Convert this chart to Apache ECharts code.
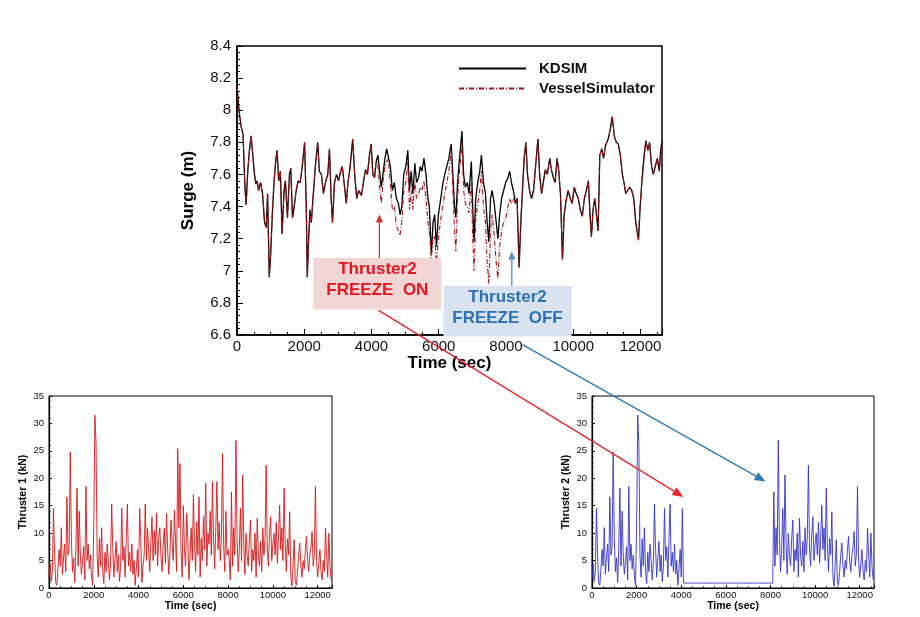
<!DOCTYPE html>
<html><head><meta charset="utf-8">
<script src="https://cdn.jsdelivr.net/npm/echarts@6/dist/echarts.min.js"></script>
<style>html,body{margin:0;padding:0;background:#fff}#c{width:920px;height:617px}</style>
</head><body><div id="c"></div>
<script>
// ---------- Surge time history (sec, m) ----------
const surgeTime = [
0,60,120,180,230,270,320,370,420,470,
520,560,600,640,700,760,820,870,910,960,
1000,1050,1100,1150,1190,1240,1290,1340,1400,1440,
1500,1560,1600,1650,1700,1760,1820,1880,1940,2010,
2060,2090,2130,2170,2210,2260,2330,2400,2450,2510,
2570,2630,2700,2750,2800,2840,2900,2960,3020,3080,
3130,3200,3250,3300,3360,3440,3500,3560,3620,3700,
3760,3820,3880,3940,3990,4040,4090,4140,4190,4250,
4290,4340,4400,4450,4500,4560,4620,4680,4740,4800,
4850,4900,4960,5020,5080,5130,5180,5230,5290,5340,
5400,5450,5500,5560,5620,5680,5720,5780,5830,5880,
5930,5990,6060,6120,6180,6240,6300,6370,6420,6470,
6510,6560,6610,6690,6740,6790,6850,6900,6970,7010,
7050,7100,7160,7220,7270,7330,7390,7440,7490,7540,
7590,7650,7710,7760,7810,7870,7930,7990,8060,8110,
8160,8220,8280,8330,8390,8440,8490,8540,8590,8640,
8700,8760,8820,8880,8950,9000,9060,9110,9170,9230,
9300,9360,9410,9460,9520,9570,9620,9680,9730,9790,
9850,9910,9970,10030,10090,10150,10210,10270,10330,10390,
10450,10500,10540,10590,10640,10690,10740,10790,10850,10900,
10960,11040,11100,11160,11220,11280,11340,11400,11460,11510,
11560,11620,11680,11740,11800,11860,11940,11990,12040,12100,
12160,12220,12270,12330,12380,12440,12500,12560,12600,12640];
const kdsim = [
8.15,8.0,7.9,7.85,7.55,7.41,7.62,7.75,7.84,7.72,
7.6,7.54,7.56,7.5,7.55,7.48,7.3,7.27,7.48,6.96,
7.1,7.35,7.55,7.68,7.75,7.56,7.62,7.23,7.5,7.56,
7.33,7.6,7.64,7.33,7.4,7.5,7.56,7.55,7.65,7.8,
7.4,6.96,7.2,7.38,7.3,7.45,7.65,7.8,7.62,7.6,
7.48,7.55,7.6,7.76,7.45,7.3,7.55,7.6,7.56,7.62,
7.65,7.52,7.42,7.55,7.64,7.82,7.6,7.45,7.5,7.47,
7.55,7.63,7.6,7.72,7.79,7.6,7.58,7.68,7.72,7.6,
7.52,7.6,7.7,7.76,7.77,7.65,7.5,7.55,7.45,7.42,
7.35,7.4,7.6,7.65,7.75,7.5,7.62,7.48,7.67,7.55,
7.58,7.65,7.62,7.7,7.6,7.45,7.4,7.1,7.3,7.35,
7.15,7.35,7.45,7.54,7.6,7.65,7.7,7.79,7.6,7.4,
7.33,7.55,7.68,7.87,7.6,7.52,7.55,7.48,7.68,7.4,
7.18,7.45,7.55,7.62,7.72,7.55,7.48,7.3,7.18,7.45,
7.5,7.42,7.3,7.2,7.35,7.45,7.5,7.55,7.58,7.62,
7.55,7.5,7.42,7.45,7.02,7.3,7.5,7.7,7.8,7.6,
7.5,7.45,7.5,7.65,7.82,7.6,7.48,7.55,7.63,7.6,
7.7,7.62,7.58,7.55,7.7,7.62,7.48,7.07,7.35,7.44,
7.5,7.45,7.42,7.52,7.48,7.45,7.38,7.34,7.45,7.5,
7.56,7.35,7.21,7.38,7.45,7.35,7.25,7.72,7.76,7.7,
7.78,7.82,7.88,7.96,7.84,7.8,7.79,7.72,7.6,7.55,
7.48,7.5,7.52,7.5,7.45,7.3,7.19,7.4,7.55,7.7,
7.81,7.75,7.8,7.65,7.6,7.65,7.7,7.62,7.75,7.81];
const vessel = [
8.15,8.0,7.9,7.85,7.55,7.41,7.62,7.75,7.84,7.72,
7.6,7.54,7.56,7.5,7.55,7.48,7.3,7.27,7.48,6.96,
7.1,7.35,7.55,7.68,7.75,7.56,7.62,7.23,7.5,7.56,
7.33,7.6,7.64,7.33,7.4,7.5,7.56,7.55,7.65,7.8,
7.4,6.96,7.2,7.38,7.3,7.45,7.65,7.8,7.62,7.6,
7.48,7.55,7.6,7.76,7.45,7.3,7.55,7.6,7.56,7.62,
7.65,7.52,7.42,7.55,7.64,7.82,7.6,7.45,7.5,7.47,
7.55,7.63,7.6,7.72,7.79,7.6,7.58,7.68,7.66,7.5,
7.42,7.55,7.65,7.68,7.70,7.55,7.38,7.4,7.28,7.25,
7.22,7.3,7.5,7.55,7.68,7.38,7.5,7.38,7.55,7.45,
7.48,7.52,7.5,7.56,7.45,7.3,7.25,7.08,7.2,7.22,
7.05,7.2,7.32,7.4,7.48,7.55,7.62,7.75,7.5,7.25,
7.12,7.45,7.6,7.8,7.5,7.42,7.4,7.36,7.55,7.2,
7.0,7.32,7.42,7.5,7.62,7.4,7.3,7.05,6.92,7.25,
7.35,7.22,7.05,6.95,7.15,7.25,7.3,7.32,7.4,7.45,
7.42,7.45,7.42,7.45,7.02,7.3,7.5,7.7,7.8,7.6,
7.5,7.45,7.5,7.65,7.82,7.6,7.48,7.55,7.63,7.6,
7.7,7.62,7.58,7.55,7.7,7.62,7.48,7.07,7.35,7.44,
7.5,7.45,7.42,7.52,7.48,7.45,7.38,7.34,7.45,7.5,
7.56,7.35,7.21,7.38,7.45,7.35,7.25,7.72,7.76,7.7,
7.78,7.82,7.88,7.96,7.84,7.8,7.79,7.72,7.6,7.55,
7.48,7.5,7.52,7.5,7.45,7.3,7.19,7.4,7.55,7.7,
7.81,7.75,7.8,7.65,7.6,7.65,7.7,7.62,7.75,7.81];

// ---------- Thruster forces (kN), sampled every 50 s ----------
const thrusterStep = 50;
const thruster1 = [
2,4.5,1.2,3,14.5,6,1,0.5,3.5,7,
4,11,2.5,5.5,8,3,16.6,6,7.5,24.8,
9,3,5.5,1,7,18.2,4,14,6,2.5,
5,7.5,1.5,18.5,5,8,3.5,6,2,0.5,
11.5,31.5,26.5,6,2,9,4,11,3,0.8,
6.5,3,8,5,1.5,4.5,15.3,7,2,5.5,
8.5,3,6,1.2,4,14.5,5,7.5,2,9,
15.3,4,6.5,3,8,2.5,5,0.5,3.5,7,
2,14.5,9,1,4,6,15.3,5,11,7,
3,8.5,13,5,10.5,6,13.7,4,9,11,
6,3,8,10.9,4.5,13.6,7,2.5,6,12.4,
8,5,14.2,9,3,25.4,11,22.7,6,2,
15,7,4,13.6,9,1.5,6,11,5,17,
8,3,12,6,16.6,2,9,5,13,7,
19.1,4,10,8,14,6,19.4,9,3.5,11,
19.4,7,12,5,9,24.5,8,3,14,6,
7,5,1.5,17.5,4,11,6,26.9,9,3,
7,14.5,5,20.6,8,2.5,10,6,4,9,
12.4,3,7,5,10,2,12.7,6,4,8.5,
3,11,6,9,22.4,7,4,10,13,5,
8,10,6,12,4.5,9,15.1,7,11,5,
18.2,8,3,9,6,13.9,2,0.3,4,8.8,
1,0.5,3,6,8.2,4,2,5,3.5,7,
9.4,5,3,6,7.5,10.3,4,6,18.5,5,
2,4.5,7,3,1.5,5,3,10.9,6,2,
10,4,1.5];
const thruster2 = [
2,4.5,1.2,3,14.5,6,1,0.5,3.5,7,
4,11,2.5,5.5,8,3,16.6,6,7.5,24.8,
9,3,5.5,1,7,18.2,4,14,6,2.5,
5,7.5,1.5,18.5,5,8,3.5,6,2,0.5,
11.5,31.5,26.5,6,2,9,4,11,3,0.8,
6.5,3,8,5,1.5,4.5,15.3,7,2,5.5,
8.5,3,6,1.2,4,14.5,5,7.5,2,9,
15.3,4,6.5,3,8,2.5,5,0.5,3.5,7,
2,14.5,0.9,0.9,0.9,0.9,0.9,0.9,0.9,0.9,
0.9,0.9,0.9,0.9,0.9,0.9,0.9,0.9,0.9,0.9,
0.9,0.9,0.9,0.9,0.9,0.9,0.9,0.9,0.9,0.9,
0.9,0.9,0.9,0.9,0.9,0.9,0.9,0.9,0.9,0.9,
0.9,0.9,0.9,0.9,0.9,0.9,0.9,0.9,0.9,0.9,
0.9,0.9,0.9,0.9,0.9,0.9,0.9,0.9,0.9,0.9,
0.9,0.9,0.9,0.9,0.9,0.9,0.9,0.9,0.9,0.9,
0.9,0.9,0.9,0.9,0.9,0.9,0.9,0.9,0.9,0.9,
0.9,0.9,0.9,17.5,4,11,6,26.9,9,3,
7,14.5,5,20.6,8,2.5,10,6,4,9,
12.4,3,7,5,10,2,12.7,6,4,8.5,
3,11,6,9,22.4,7,4,10,13,5,
8,10,6,12,4.5,9,15.1,7,11,5,
18.2,8,3,9,6,13.9,2,0.3,4,8.8,
1,0.5,3,6,8.2,4,2,5,3.5,7,
9.4,5,3,6,7.5,10.3,4,6,18.5,5,
2,4.5,7,3,1.5,5,3,10.9,6,2,
10,4,1.5];

const seriesNames = ['KDSIM', 'VesselSimulator'];
const annoOn = ['Thruster2', 'FREEZE  ON'];
const annoOff = ['Thruster2', 'FREEZE  OFF'];

// ---------- build ----------
const FONT = '"Liberation Sans", Arial, sans-serif';
const pairs = (xs, ys) => ys.map((v, i) => [xs[i], v]);
const sampled = (ys) => ys.map((v, i) => [i * thrusterStep, v]);
const plain = (v) => String(v);

function xAx(gi, fs, nameFs, nameGap, tickLen, margin) {
  return {
    type: 'value', gridIndex: gi, min: 0, max: 12640, interval: 2000,
    axisLine: { show: true, lineStyle: { color: '#000', width: gi === 0 ? 1.6 : 1.2 } },
    axisTick: { show: true, inside: true, length: tickLen, lineStyle: { color: '#000', width: 1 } },
    minorTick: { show: true, splitNumber: 4, length: tickLen / 2, lineStyle: { color: '#000', width: 1 } },
    axisLabel: { fontSize: fs, color: '#111', fontFamily: FONT, margin: margin, showMaxLabel: false, formatter: plain },
    splitLine: { show: false },
    name: 'Time (sec)', nameLocation: 'middle', nameGap: nameGap,
    nameTextStyle: { fontSize: nameFs, fontWeight: 'bold', color: '#000', fontFamily: FONT }
  };
}
function yAx(gi, min, max, interval, name, fs, nameFs, nameGap, tickLen, margin) {
  return {
    type: 'value', gridIndex: gi, min: min, max: max, interval: interval,
    axisLine: { show: true, lineStyle: { color: '#000', width: gi === 0 ? 1.6 : 1.2 } },
    axisTick: { show: true, inside: true, length: tickLen, lineStyle: { color: '#000', width: 1 } },
    minorTick: { show: true, splitNumber: 5, length: tickLen / 2, lineStyle: { color: '#000', width: 1 } },
    axisLabel: { fontSize: fs, color: '#111', fontFamily: FONT, margin: margin, formatter: plain },
    splitLine: { show: false },
    name: name, nameLocation: 'middle', nameGap: nameGap, nameRotate: 90,
    nameTextStyle: { fontSize: nameFs, fontWeight: 'bold', color: '#000', fontFamily: FONT }
  };
}

const chart = echarts.init(document.getElementById('c'), null, { renderer: 'canvas' });
chart.setOption({
  animation: false,
  backgroundColor: '#fff',
  grid: [
    { left: 237, top: 46, right: 258, bottom: 282, show: true, borderColor: '#000', borderWidth: 1.5 },
    { left: 49, top: 396, right: 588, bottom: 29, show: true, borderColor: '#000', borderWidth: 1 },
    { left: 592, top: 396, right: 46, bottom: 29, show: true, borderColor: '#000', borderWidth: 1 }
  ],
  xAxis: [
    xAx(0, 15, 17, 19, 6, 4),
    xAx(1, 9.5, 10.5, 10, 3, 2),
    xAx(2, 9.5, 10.5, 10, 3, 2)
  ],
  yAxis: [
    yAx(0, 6.6, 8.4, 0.2, 'Surge (m)', 15, 17, 40, 6, 6),
    yAx(1, 0, 35, 5, 'Thruster 1 (kN)', 9.5, 10.5, 20, 3, 5),
    yAx(2, 0, 35, 5, 'Thruster 2 (kN)', 9.5, 10.5, 20, 3, 5)
  ],
  legend: {
    orient: 'vertical', left: 458, top: 61, padding: 0, itemWidth: 67, itemHeight: 14, itemGap: 5,
    data: seriesNames,
    itemStyle: { opacity: 0 },
    textStyle: { fontSize: 15, fontWeight: 'bold', color: '#111', fontFamily: FONT, padding: [0, 0, 0, 8] }
  },
  series: [
    { name: seriesNames[0], type: 'line', xAxisIndex: 0, yAxisIndex: 0, data: pairs(surgeTime, kdsim),
      symbol: 'none', color: '#000', lineStyle: { color: '#000', width: 1.3 }, z: 2 },
    { name: seriesNames[1], type: 'line', xAxisIndex: 0, yAxisIndex: 0, data: pairs(surgeTime, vessel),
      symbol: 'none', color: '#a8141a', lineStyle: { color: '#a8141a', width: 1.1, type: [5, 2, 1, 2] }, z: 3 },
    { name: 'Thruster 1', type: 'line', xAxisIndex: 1, yAxisIndex: 1, data: sampled(thruster1),
      symbol: 'none', color: '#d01818', lineStyle: { color: '#d01818', width: 0.9 } },
    { name: 'Thruster 2', type: 'line', xAxisIndex: 2, yAxisIndex: 2, data: sampled(thruster2),
      symbol: 'none', color: '#3434c8', lineStyle: { color: '#3434c8', width: 0.9 } }
  ]
});

// ---------- annotations, anchored in data coordinates ----------
const P = (g, x, y) => chart.convertToPixel({ gridIndex: g }, [x, y]);
function arrow(p0, p1, color, w, hl, hw) {
  const dx = p1[0] - p0[0], dy = p1[1] - p0[1], L = Math.hypot(dx, dy);
  const ux = dx / L, uy = dy / L, px = -uy, py = ux;
  const bx = p1[0] - ux * hl, by = p1[1] - uy * hl;
  return [
    { type: 'line', z: 100, shape: { x1: p0[0], y1: p0[1], x2: bx, y2: by }, style: { stroke: color, lineWidth: w } },
    { type: 'polygon', z: 100, shape: { points: [p1, [bx + px * hw / 2, by + py * hw / 2], [bx - px * hw / 2, by - py * hw / 2]] }, style: { fill: color } }
  ];
}
function box(a, b, fill) {
  const x = Math.min(a[0], b[0]), y = Math.min(a[1], b[1]);
  return { type: 'rect', z: 90, shape: { x: x, y: y, width: Math.abs(b[0] - a[0]), height: Math.abs(b[1] - a[1]) }, style: { fill: fill } };
}
function label(c, lines, color) {
  return { type: 'text', z: 95, style: { text: lines.join('\n'), x: c[0], y: c[1], align: 'center', verticalAlign: 'middle',
    fill: color, font: 'bold 17px ' + FONT, lineHeight: 21 } };
}
const rA = P(0, 2270, 7.08), rB = P(0, 6080, 6.76);
const bA = P(0, 6140, 6.905), bB = P(0, 9950, 6.59);
const g = [];
g.push(box(rA, rB, '#f2d6d5'));
g.push(box(bA, bB, '#d9e3ef'));
g.push(label([(rA[0] + rB[0]) / 2, (rA[1] + rB[1]) / 2 - 4], annoOn, '#e8141e'));
g.push(label([(bA[0] + bB[0]) / 2, (bA[1] + bB[1]) / 2 - 4], annoOff, '#2a72b5'));
g.push(...arrow(P(0, 4235, 7.08), P(0, 4235, 7.35), '#e8262b', 1.3, 8, 7));
g.push(...arrow(P(0, 8173, 6.905), P(0, 8173, 7.12), '#4a8fcc', 1.3, 8, 7));
g.push(...arrow(P(0, 4200, 6.755), P(2, 4100, 16.6), '#e8262b', 1.4, 11, 9));
g.push(...arrow(P(0, 8490, 6.54), P(2, 7780, 19.4), '#2b7bb9', 1.3, 11, 9));
chart.setOption({ graphic: g });
</script>
</body></html>
